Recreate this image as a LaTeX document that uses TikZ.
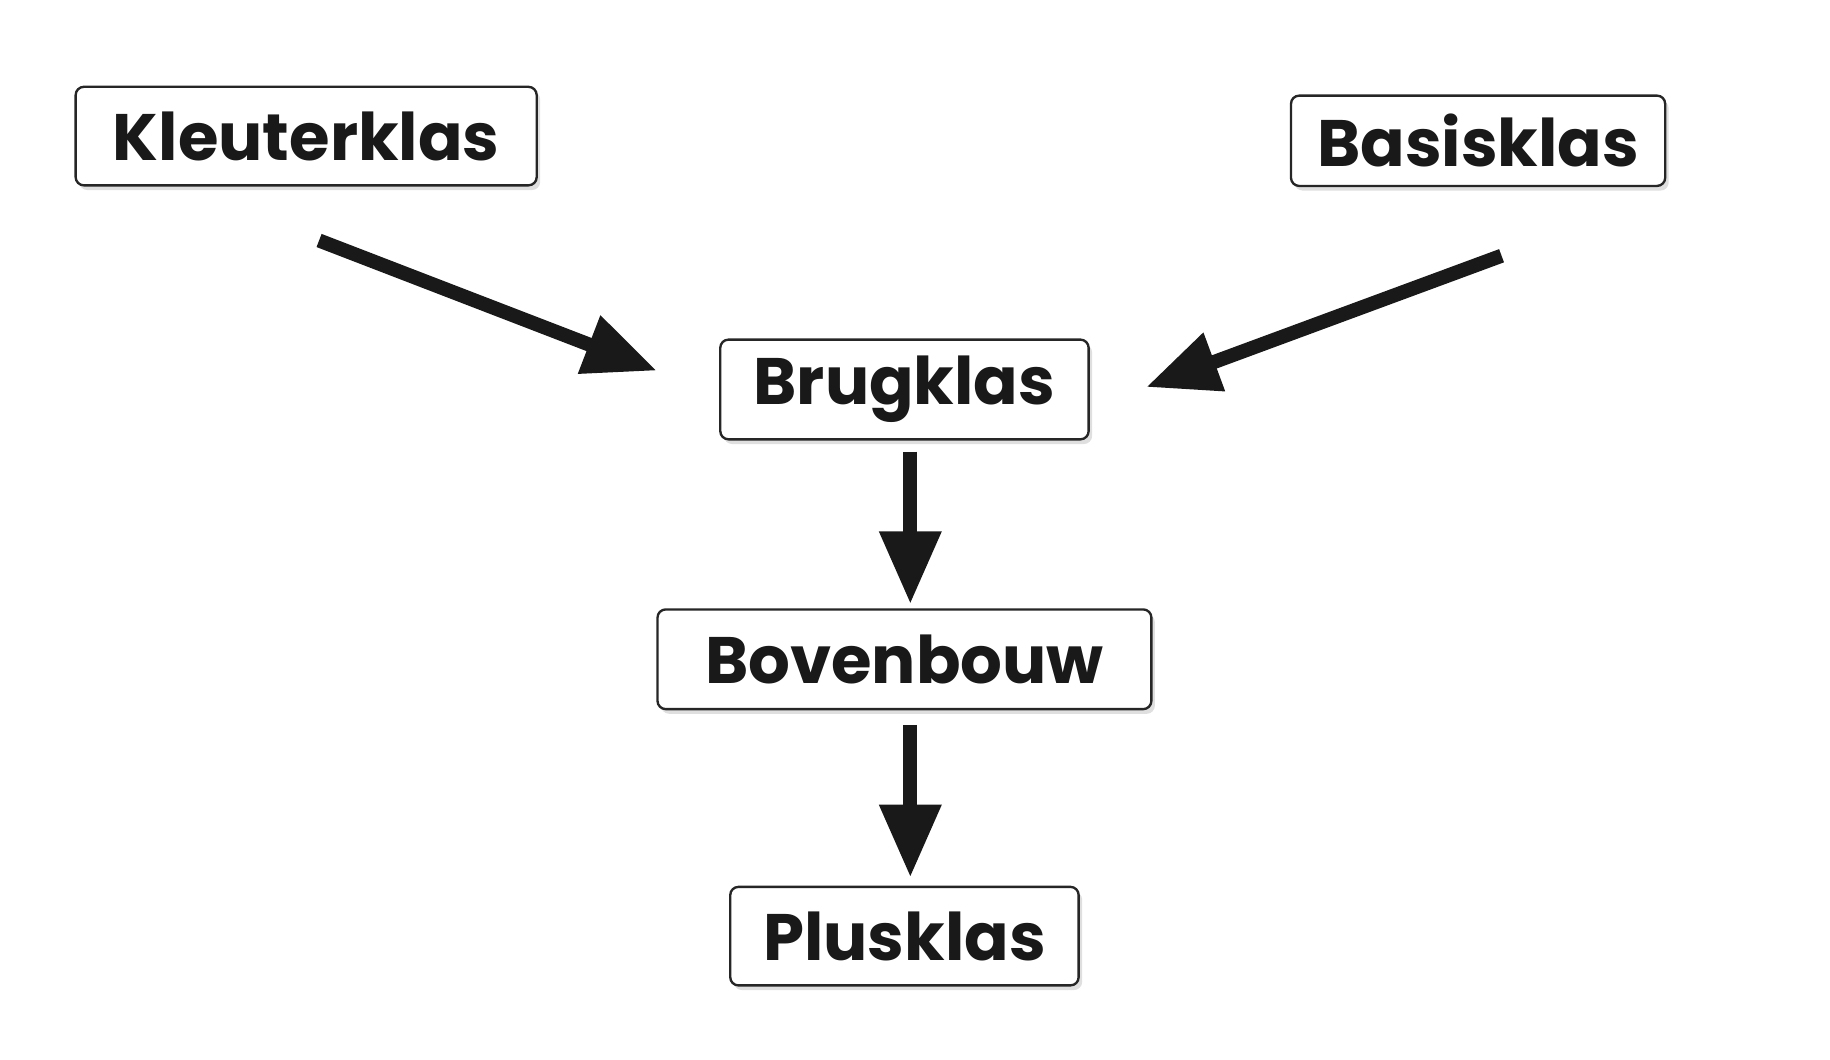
\documentclass[tikz,border=0pt]{standalone}
\usepackage{fontspec}
\setmainfont{Poppins}
\usetikzlibrary{arrows.meta,shadows}
\begin{document}
\begin{tikzpicture}[x=1pt,y=-1pt,
  box/.style={draw=black!85,line width=2pt,rounded corners=7pt,fill=white,
    inner sep=0pt,font=\fontsize{56}{60}\selectfont\bfseries,text=black!90,
    drop shadow={opacity=0.25,shadow xshift=3pt,shadow yshift=-4pt}},
  arr/.style={line width=12pt,draw=black!90,-{Triangle[length=62pt,width=50pt]}}]
\useasboundingbox (0,0) rectangle (1560,903);
\node[box,minimum width=393pt,minimum height=84pt] (k) at (261,116) {Kleuterklas};
\node[box,minimum width=319pt,minimum height=77pt] (ba) at (1260,120) {Basisklas};
\node[box,minimum width=314pt,minimum height=85pt] (br) at (771,332) {Brugklas};
\node[box,minimum width=421pt,minimum height=85pt] (bo) at (771,562) {Bovenbouw};
\node[box,minimum width=297pt,minimum height=84pt] (p) at (771,798) {Plusklas};
\coordinate (k1) at (272,205); \coordinate (k2) at (560,316);
\coordinate (b1) at (1280,218); \coordinate (b2) at (977,330);
\coordinate (r1) at (776,385); \coordinate (r2) at (776,515);
\coordinate (o1) at (776,618); \coordinate (o2) at (776,748);
\draw[arr] (k1) -- (k2);
\draw[arr] (b1) -- (b2);
\draw[arr] (r1) -- (r2);
\draw[arr] (o1) -- (o2);
\end{tikzpicture}
\end{document}
